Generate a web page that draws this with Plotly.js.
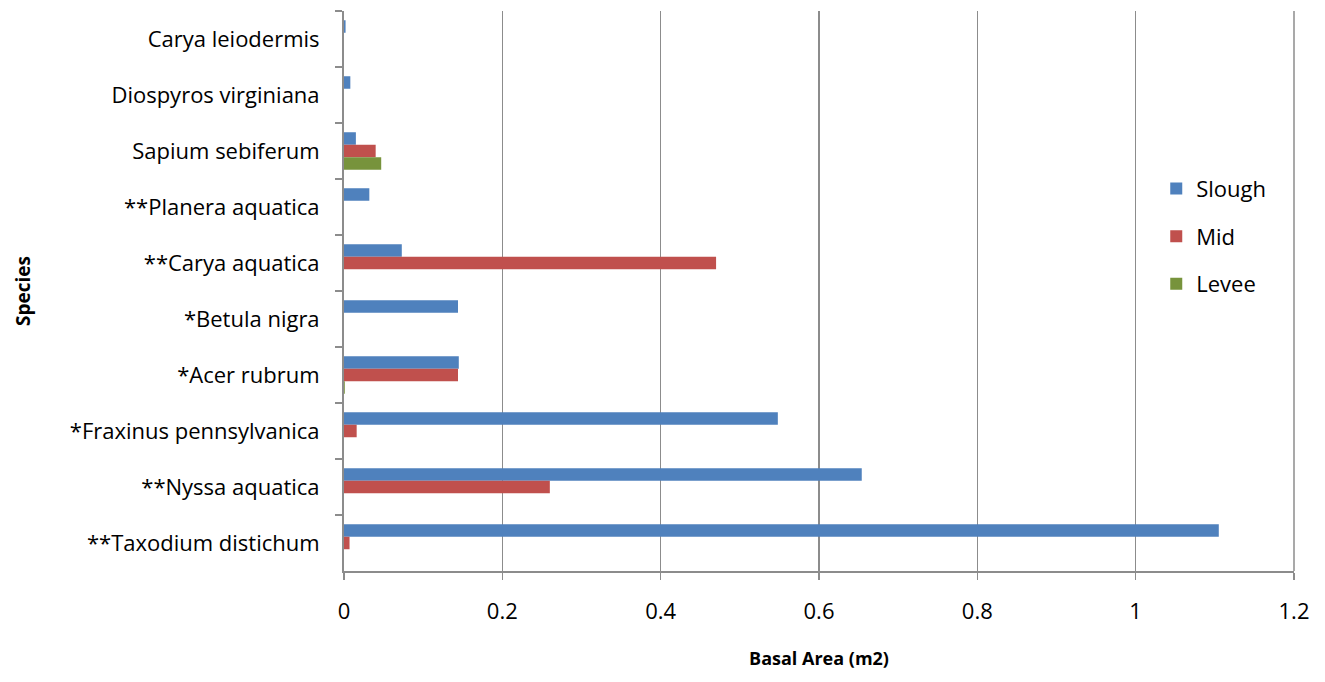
<!DOCTYPE html>
<html>
<head>
<meta charset="utf-8">
<script src="https://cdn.plot.ly/plotly-3.0.1.min.js"></script>
<style>html,body{margin:0;padding:0;background:#fff;}#chart{width:1325px;height:682px;}</style>
</head>
<body>
<div id="chart"></div>
<script>
// Categories, top to bottom as shown
const species = [
  "Carya leiodermis",
  "Diospyros virginiana",
  "Sapium sebiferum",
  "**Planera aquatica",
  "**Carya aquatica",
  "*Betula nigra",
  "*Acer rubrum",
  "*Fraxinus pennsylvanica",
  "**Nyssa aquatica",
  "**Taxodium distichum"
];
const slough = [0.002, 0.008, 0.015, 0.032, 0.073, 0.144, 0.145, 0.548, 0.654, 1.105];
const mid    = [0, 0, 0.040, 0, 0.470, 0, 0.144, 0.016, 0.260, 0.007];
const levee  = [0, 0, 0.047, 0, 0, 0, 0.001, 0, 0, 0];
const seriesNames = ["Slough", "Mid", "Levee"];
const xTicks = [0, 0.2, 0.4, 0.6, 0.8, 1, 1.2];

const colors = ["#4F81BD", "#C0504D", "#77933C"];
const vals = [slough, mid, levee];
const font = "'Open Sans', sans-serif";

const traces = vals.map((v, i) => ({
  type: "bar",
  orientation: "h",
  name: seriesNames[i],
  legendgroup: seriesNames[i],
  x: v,
  y: species,
  marker: {color: colors[i]},
  hoverinfo: "x+y+name"
}));

const layout = {
  width: 1325,
  height: 682,
  margin: {l: 344, r: 31, t: 11, b: 111},
  paper_bgcolor: "#fff",
  plot_bgcolor: "#fff",
  barmode: "group",
  bargap: 0.33,
  bargroupgap: 0,
  font: {family: font, size: 22, color: "#000"},
  showlegend: true,
  legend: {
    x: 0.855, y: 0.72, xanchor: "left", yanchor: "top",
    font: {family: font, size: 22, color: "#000"},
    tracegroupgap: 16,
    bgcolor: "rgba(0,0,0,0)"
  },
  shapes: [{
    type: "line", xref: "paper", yref: "paper",
    x0: 1, x1: 1, y0: 0, y1: 1,
    line: {color: "#8C8C8C", width: 1.5}
  }],
  xaxis: {
    range: [0, 1.2],
    tickvals: xTicks,
    ticktext: xTicks.map(String),
    showgrid: true,
    gridcolor: "#8C8C8C",
    gridwidth: 1.5,
    zeroline: false,
    showline: true,
    linecolor: "#8C8C8C",
    linewidth: 2,
    ticks: "outside",
    ticklen: 7,
    tickcolor: "#8C8C8C",
    tickwidth: 1.5,
    ticklabelstandoff: 13,
    tickfont: {family: font, size: 22, color: "#000"},
    title: {text: "<b>Basal Area (m2)</b>", font: {family: font, size: 18, color: "#000"}, standoff: 28},
    fixedrange: true
  },
  yaxis: {
    type: "category",
    categoryorder: "array",
    categoryarray: species,
    autorange: "reversed",
    showgrid: false,
    zeroline: false,
    showline: true,
    linecolor: "#8C8C8C",
    linewidth: 2,
    ticks: "outside",
    tickson: "boundaries",
    ticklen: 7,
    tickcolor: "#8C8C8C",
    tickwidth: 1.5,
    ticklabelstandoff: 18,
    tickfont: {family: font, size: 22, color: "#000"},
    title: {text: "<b>Species</b>", font: {family: font, size: 19, color: "#000"}, standoff: 34},
    fixedrange: true
  }
};

Plotly.newPlot("chart", traces, layout, {displayModeBar: false, staticPlot: true});
</script>
</body>
</html>
